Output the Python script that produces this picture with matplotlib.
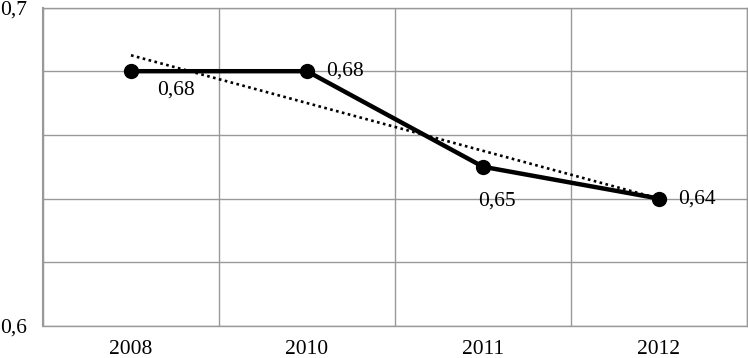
import numpy as np
from matplotlib import pyplot as plt

years = ['2008', '2010', '2011', '2012']
values = [0.68, 0.68, 0.65, 0.64]
value_labels = ['0,68', '0,68', '0,65', '0,64']

plt.rcParams['font.family'] = ['Liberation Serif', 'DejaVu Serif']

fig = plt.figure(figsize=(7.48, 3.58), dpi=100)
ax = fig.add_axes([43 / 748, 32 / 358, 704 / 748, 318.5 / 358])

x = np.arange(len(years))

# linear trend line
coef = np.polyfit(x, values, 1)
ax.plot(x, np.polyval(coef, x), color='black', linestyle=(0, (1, 1.3)),
        linewidth=1.9, zorder=2)

ax.plot(x, values, color='black', linewidth=3.2, marker='o', markersize=10,
        zorder=3)

# data labels
offsets = [(45, -19, 'center'), (19, 0, 'left'), (14, -34, 'center'), (19, 0, 'left')]
for xi, v, lab, (dx, dy, ha) in zip(x, values, value_labels, offsets):
    ax.annotate(lab, (xi, v), xytext=(dx * 0.72, dy * 0.72),
                textcoords='offset points', ha=ha, va='center', fontsize=15.5)

ax.set_xlim(-0.5, 3.5)
ax.set_ylim(0.6, 0.7)
ax.set_xticks(x)
ax.set_xticklabels(years, fontsize=15.5)
ax.set_xticks(np.arange(-0.5, 4, 1), minor=True)

yt = [0.6, 0.62, 0.64, 0.66, 0.68, 0.7]
ax.set_yticks(yt)
ax.set_yticklabels(['0,6', '', '', '', '', '0,7'], fontsize=15.5)
for lab in ax.get_yticklabels():
    lab.set_horizontalalignment('left')

ax.tick_params(axis='both', which='both', length=0)
ax.tick_params(axis='x', pad=10)
ax.tick_params(axis='y', pad=31)

ax.grid(True, axis='y', color='#999999', linewidth=1)
ax.grid(True, axis='x', which='minor', color='#999999', linewidth=1)
for s in ax.spines.values():
    s.set_color('#999999')
    s.set_linewidth(1)
ax.spines['left'].set_linewidth(1.5)

plt.savefig('out.png', dpi=100)
